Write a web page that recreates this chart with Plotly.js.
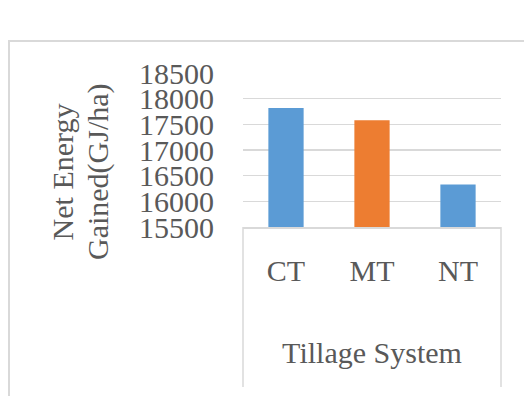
<!DOCTYPE html>
<html>
<head>
<meta charset="utf-8">
<script src="https://cdn.plot.ly/plotly-3.0.1.min.js"></script>
<style>
  html, body { margin: 0; padding: 0; background: #ffffff; overflow: hidden; }
  #frame {
    position: absolute; left: 8px; top: 40px; width: 700px; height: 600px;
    border-left: 2px solid #d9d9d9; border-top: 2px solid #d9d9d9;
  }
  #chart { position: absolute; left: 0; top: 0; width: 524px; height: 396px; }
</style>
</head>
<body>
<div id="frame"></div>
<div id="chart"></div>
<script>
// Net energy gained per tillage system
const tillage = ['CT', 'MT', 'NT'];
const netEnergy = [17820, 17580, 16330];
const yTicks = [15500, 16000, 16500, 17000, 17500, 18000, 18500];
const yTitleLines = ['Net Energy', 'Gained(GJ/ha)'];
const xTitle = 'Tillage System';

const barColors = ['#5b9bd5', '#ed7d31', '#5b9bd5'];
const textColor = '#595959';
const lineColor = '#d9d9d9';
const serif = 'Liberation Serif, Times New Roman, serif';

const trace = {
  type: 'bar',
  x: tillage,
  y: netEnergy,
  marker: { color: barColors, line: { width: 0 } },
  hoverinfo: 'none'
};

const layout = {
  width: 524,
  height: 396,
  margin: { l: 243, r: 23, t: 73, b: 169, pad: 0 },
  paper_bgcolor: 'rgba(0,0,0,0)',
  plot_bgcolor: 'rgba(0,0,0,0)',
  showlegend: false,
  bargap: 0.59,
  font: { family: serif, color: textColor, size: 30 },
  xaxis: {
    type: 'category',
    automargin: false,
    showgrid: false,
    zeroline: false,
    showline: true,
    linecolor: lineColor,
    linewidth: 1.5,
    ticks: '',
    ticklabelstandoff: 16,
    tickfont: { family: serif, size: 30, color: textColor },
    title: { text: xTitle, font: { family: serif, size: 30, color: textColor }, standoff: 56 }
  },
  yaxis: {
    range: [15500, 18500],
    tickvals: yTicks,
    ticktext: yTicks.map(String),
    automargin: false,
    showgrid: true,
    gridcolor: lineColor,
    gridwidth: 1.4,
    zeroline: false,
    showline: false,
    ticks: '',
    ticklabelstandoff: 28,
    tickfont: { family: serif, size: 30, color: textColor }
  },
  shapes: [
    { type: 'line', xref: 'paper', yref: 'paper', x0: 0, x1: 0, y0: 0, y1: -1.039,
      line: { color: lineColor, width: 1.5 } },
    { type: 'line', xref: 'paper', yref: 'paper', x0: 1, x1: 1, y0: 0, y1: -1.039,
      line: { color: lineColor, width: 1.5 } }
  ],
  annotations: [
    { text: yTitleLines[0], xref: 'paper', yref: 'paper', x: -0.7, y: 0.357,
      xanchor: 'center', yanchor: 'middle', textangle: -90, showarrow: false,
      font: { family: serif, size: 30, color: textColor } },
    { text: yTitleLines[1], xref: 'paper', yref: 'paper', x: -0.562, y: 0.357,
      xanchor: 'center', yanchor: 'middle', textangle: -90, showarrow: false,
      font: { family: serif, size: 30, color: textColor } }
  ]
};

Plotly.newPlot('chart', [trace], layout, { displayModeBar: false, staticPlot: true });
</script>
</body>
</html>
